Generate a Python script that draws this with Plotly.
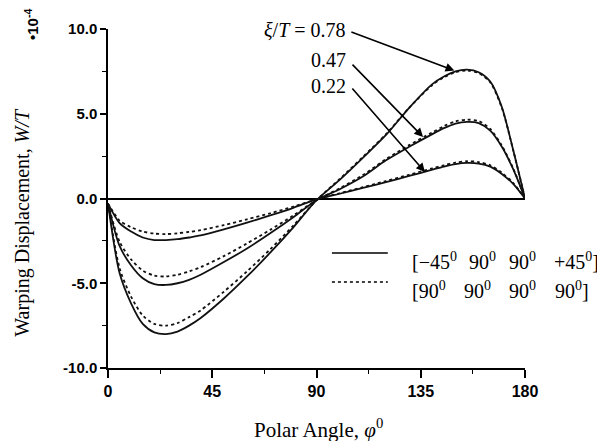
import plotly.graph_objects as go

# ---------------- data ----------------
phi = [0, 5, 10, 15, 20, 25, 30, 35, 40, 50, 60, 70, 80, 90,
       100, 110, 120, 130, 140, 145, 150, 155, 160, 165, 170, 175, 180]

# xi/T = 0.78
w078_solid = [-0.3, -4.4, -6.2, -7.4, -7.9, -8.0, -7.85, -7.5, -7.05, -5.9, -4.6, -3.2, -1.7, -0.1,
              1.1, 2.4, 3.75, 5.35, 6.75, 7.2, 7.5, 7.6, 7.45, 6.9, 5.4, 2.8, 0.0]
w078_dot = [-0.3, -4.1, -5.8, -6.9, -7.4, -7.5, -7.35, -7.0, -6.6, -5.5, -4.3, -3.0, -1.6, -0.1,
            1.15, 2.45, 3.8, 5.35, 6.7, 7.15, 7.45, 7.55, 7.4, 6.85, 5.35, 2.8, 0.0]
# xi/T = 0.47
w047_solid = [-0.3, -2.8, -3.95, -4.7, -5.05, -5.1, -5.0, -4.8, -4.5, -3.75, -2.95, -2.05, -1.1, -0.1,
              0.55, 1.3, 2.25, 3.05, 3.8, 4.15, 4.42, 4.52, 4.45, 4.0, 3.05, 1.7, 0.0]
w047_dot = [-0.3, -2.55, -3.6, -4.25, -4.55, -4.6, -4.5, -4.3, -4.05, -3.4, -2.65, -1.85, -1.0, -0.1,
            0.6, 1.38, 2.32, 3.15, 3.9, 4.27, 4.55, 4.65, 4.57, 4.1, 3.12, 1.75, 0.0]
# xi/T = 0.22
w022_solid = [-0.3, -1.45, -1.95, -2.3, -2.45, -2.45, -2.4, -2.3, -2.18, -1.82, -1.42, -1.0, -0.55, -0.05,
              0.28, 0.62, 0.97, 1.33, 1.7, 1.88, 2.03, 2.1, 2.06, 1.88, 1.45, 0.85, 0.0]
w022_dot = [-0.3, -1.3, -1.7, -1.95, -2.07, -2.1, -2.05, -1.97, -1.87, -1.57, -1.23, -0.87, -0.48, -0.05,
            0.31, 0.67, 1.03, 1.4, 1.78, 1.96, 2.12, 2.2, 2.15, 1.96, 1.52, 0.9, 0.0]

x_tickvals = [0, 45, 90, 135, 180]
x_ticktext = ["0", "45", "90", "135", "180"]
y_tickvals = [-10, -5, 0, 5, 10]
y_ticktext = ["-10.0", "-5.0", "0.0", "5.0", "10.0"]

ratio_labels = ["<i>ξ</i>/<i>T</i> = 0.78", "0.47", "0.22"]
legend_row1 = ["[−45<sup>0</sup>", "90<sup>0</sup>", "90<sup>0</sup>", "+45<sup>0</sup>]"]
legend_row2 = ["[90<sup>0</sup>", "90<sup>0</sup>", "90<sup>0</sup>", "90<sup>0</sup>]"]

# ---------------- figure ----------------
fig = go.Figure()
LC = "#111111"
for ys in [w078_solid, w047_solid, w022_solid]:
    fig.add_trace(go.Scatter(x=phi, y=ys, mode="lines",
                             line=dict(color=LC, width=1.8, shape="spline", smoothing=0.8),
                             showlegend=False, hoverinfo="skip"))
for ys in [w078_dot, w047_dot, w022_dot]:
    fig.add_trace(go.Scatter(x=phi, y=ys, mode="lines",
                             line=dict(color=LC, width=1.8, dash="dot", shape="spline", smoothing=0.8),
                             showlegend=False, hoverinfo="skip"))

tickfont = dict(family="Liberation Sans Narrow, Liberation Sans, Arial", size=16, color="black", weight="bold")
serif = "Liberation Serif, Times New Roman, serif"

fig.update_xaxes(range=[0, 180], tickmode="array", tickvals=x_tickvals, ticktext=x_ticktext,
                 showline=True, linecolor="black", linewidth=1.5, ticks="outside", ticklen=8,
                 tickwidth=1.5, tickcolor="black", showgrid=False, zeroline=False,
                 tickfont=tickfont,
                 minor=dict(tickmode="linear", tick0=0, dtick=22.5, ticks="outside", ticklen=4,
                            tickwidth=1.2, tickcolor="black"))
fig.update_yaxes(range=[-10, 10], tickmode="array", tickvals=y_tickvals, ticktext=y_ticktext,
                 showline=True, linecolor="black", linewidth=1.5, ticks="outside", ticklen=6,
                 tickwidth=1.5, tickcolor="black", showgrid=False,
                 zeroline=True, zerolinecolor="black", zerolinewidth=1.5,
                 tickfont=dict(tickfont, size=15),
                 minor=dict(tickmode="linear", tick0=0, dtick=2.5, ticks="outside", ticklen=4,
                            tickwidth=1.2, tickcolor="black"))

ann = []
# axis titles
ann.append(dict(text="Polar Angle, <i>φ</i><sup>0</sup>", xref="paper", yref="paper",
                x=0.5036, y=-0.177, showarrow=False, font=dict(family=serif, size=21, color="black"),
                xanchor="center", yanchor="middle"))
ann.append(dict(text="Warping Displacement, <i>W/T</i>", xref="paper", yref="paper",
                x=-0.206, y=0.429, showarrow=False, textangle=-90,
                font=dict(family=serif, size=20, color="black"), xanchor="center", yanchor="middle"))
ann.append(dict(text="•10<sup>-4</sup>", xref="paper", yref="paper", x=-0.182, y=1.012,
                showarrow=False, textangle=-90,
                font=dict(family="Liberation Sans, Arial", size=15, color="black", weight="bold"),
                xanchor="center", yanchor="middle"))

# ratio labels and arrows
label_y = [9.95, 8.17, 6.64]
tails = [(104.4, 9.85), (104.9, 7.99), (104.9, 6.58)]
heads = [(149.5, 7.55), (136.0, 3.63), (136.8, 1.56)]
for txt, ly in zip(ratio_labels, label_y):
    ann.append(dict(text=txt, x=103.6, y=ly, xref="x", yref="y", showarrow=False,
                    xanchor="right", yanchor="middle",
                    font=dict(family=serif, size=20, color="black")))
for (tx, ty), (hx, hy) in zip(tails, heads):
    ann.append(dict(text="", x=hx, y=hy, ax=tx, ay=ty, xref="x", yref="y", axref="x", ayref="y",
                    showarrow=True, arrowhead=2, arrowsize=1.1, arrowwidth=1.6, arrowcolor="black",
                    standoff=0, startstandoff=0))

# legend (table-like)
row1_x = [0.7242, 0.8609, 0.9568, 1.0647]
row2_x = [0.7242, 0.8489, 0.9568, 1.0671]
for txt, xx in zip(legend_row1, row1_x):
    ann.append(dict(text=txt, x=xx, y=0.3156, xref="paper", yref="paper", showarrow=False,
                    xanchor="left", yanchor="middle", font=dict(family=serif, size=20, color="black")))
for txt, xx in zip(legend_row2, row2_x):
    ann.append(dict(text=txt, x=xx, y=0.230, xref="paper", yref="paper", showarrow=False,
                    xanchor="left", yanchor="middle", font=dict(family=serif, size=20, color="black")))

shapes = [
    dict(type="line", xref="paper", yref="paper", x0=0.537, x1=0.671, y0=0.339, y1=0.339,
         line=dict(color="black", width=1.5)),
    dict(type="line", xref="paper", yref="paper", x0=0.537, x1=0.671, y0=0.254, y1=0.254,
         line=dict(color="black", width=1.5, dash="dot")),
]

# the page body adds an 8px offset, so the figure is 8px smaller in each direction
fig.update_layout(width=597, height=433, margin=dict(l=100, r=80, t=21, b=73),
                  plot_bgcolor="white", paper_bgcolor="white",
                  annotations=ann, shapes=shapes, showlegend=False)

fig.write_html("out.html")
